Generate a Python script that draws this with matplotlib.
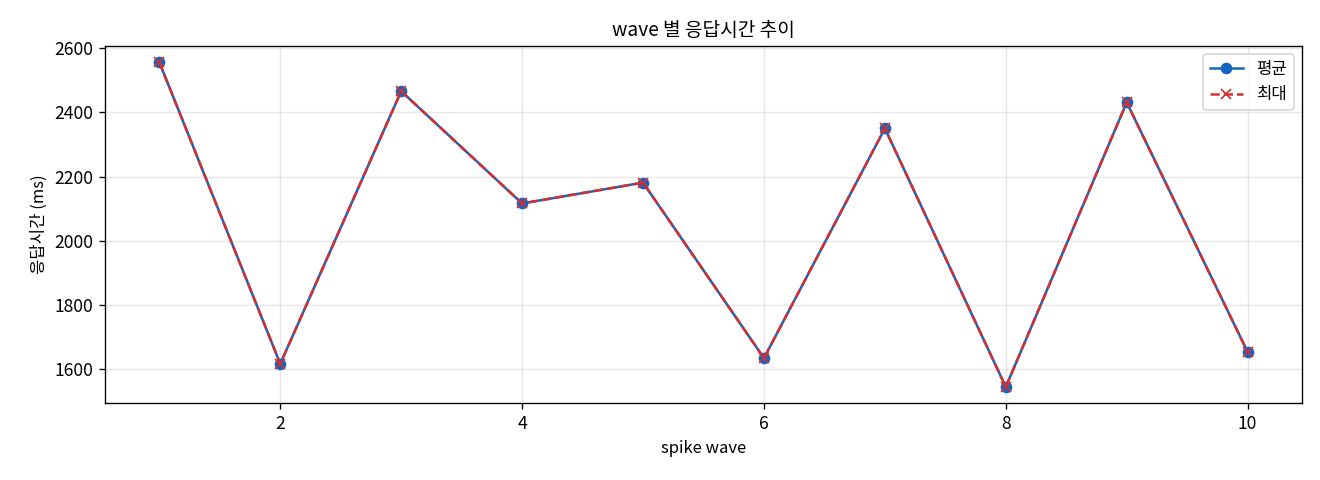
import matplotlib
matplotlib.use('Agg')
import matplotlib.pyplot as plt

plt.rcParams['font.family'] = ['Noto Sans CJK KR', 'DejaVu Sans']
plt.rcParams['axes.unicode_minus'] = False

# data
waves = [1, 2, 3, 4, 5, 6, 7, 8, 9, 10]
avg_ms = [2556, 1616, 2466, 2116, 2181, 1634, 2350, 1544, 2431, 1653]
max_ms = [2556, 1616, 2466, 2116, 2181, 1634, 2350, 1544, 2431, 1653]

fig, ax = plt.subplots(figsize=(11, 4), dpi=120)
ax.plot(waves, avg_ms, marker='o', color='#1565C0', label='평균', markersize=6)
ax.plot(waves, max_ms, marker='x', linestyle='--', color='#D32F2F', label='최대', markersize=6)
ax.set_title('wave 별 응답시간 추이', fontsize=11.5)
ax.set_xlabel('spike wave', fontsize=10)
ax.set_ylabel('응답시간 (ms)', fontsize=10)
ax.tick_params(labelsize=10.5)
ax.grid(True, alpha=0.3)
ax.legend(loc='upper right')
fig.subplots_adjust(left=0.0795, right=0.9864, top=0.904, bottom=0.160)
fig.savefig('out.png')
